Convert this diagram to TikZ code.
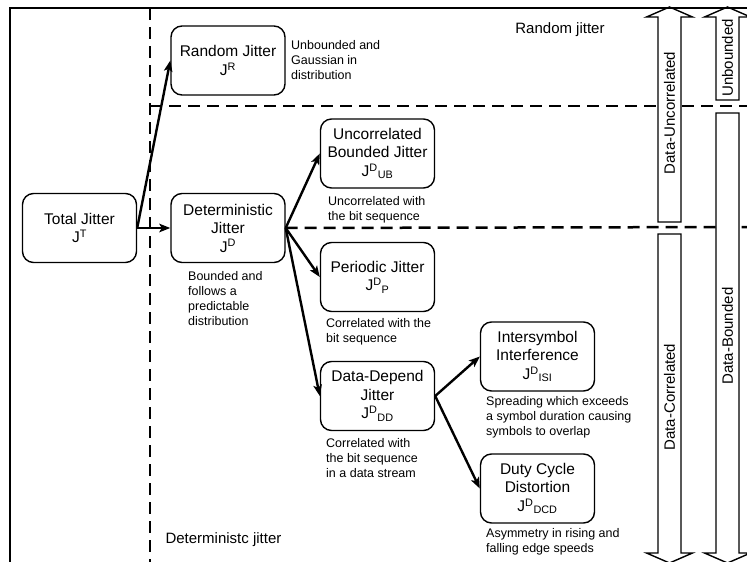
\documentclass[tikz,border=0pt]{standalone}
\usepackage{fontspec}
\setmainfont{Liberation Sans}
\usetikzlibrary{arrows.meta}
\tikzset{
  jbox/.style={draw,line width=1.4pt,rounded corners=11pt,minimum width=114pt,minimum height=69pt,align=center,inner sep=2pt,font=\fontsize{15.5}{18.5}\selectfont},
  jnote/.style={anchor=north west,align=left,inner sep=0pt,font=\fontsize{12.5}{15}\selectfont},
  jlink/.style={line width=2.4pt,-{Stealth[length=11pt,width=8.5pt,inset=2.5pt]}},
  zone/.style={line width=2.5pt,dash pattern=on 12pt off 7pt},
  band/.style={draw,fill=white,line width=1.4pt},
  bandlabel/.style={rotate=90,inner sep=0pt,font=\fontsize{15}{18}\selectfont}
}
\newcommand{\jsym}[2]{J\textsuperscript{#1}\textsubscript{#2}}
\begin{document}
\begin{tikzpicture}[x=1pt,y=-1pt]
\useasboundingbox (0,0) rectangle (747,562);
% boxes
\node[jbox] (TJ) at (79.5,228) {Total Jitter\\J\textsuperscript{T}};
\node[jbox] (RJ) at (228,60.5) {Random Jitter\\J\textsuperscript{R}};
\node[jbox] (DJ) at (228,228) {Deterministic\\Jitter\\J\textsuperscript{D}};
\node[jbox] (UBJ) at (377.5,153.5) {Uncorrelated\\Bounded Jitter\\\jsym{D}{UB}};
\node[jbox] (PJ) at (377.5,277) {Periodic Jitter\\\jsym{D}{P}};
\node[jbox] (DDJ) at (377.5,396) {Data-Depend\\Jitter\\\jsym{D}{DD}};
\node[jbox] (ISI) at (537.5,356.5) {Intersymbol\\Interference\\\jsym{D}{ISI}};
\node[jbox] (DCD) at (537.5,488.5) {Duty Cycle\\Distortion\\\jsym{D}{DCD}};
% zones
\draw[zone] (150,8) -- (150,562);
\draw[zone] (150,106) -- (747,106);
\draw[zone] (DJ.east) -- (747,227);
% side bands
\draw[band] (658,222) -- (658,17) -- (646.5,17) -- (669.5,7) -- (692.5,17) -- (681,17) -- (681,222) -- cycle;
\draw[band] (716,100) -- (716,17) -- (704.5,17) -- (727.5,7) -- (750.5,17) -- (739,17) -- (739,100) -- cycle;
\draw[band] (658,234) -- (658,553) -- (646.5,553) -- (669.5,563) -- (692.5,553) -- (681,553) -- (681,234) -- cycle;
\draw[band] (716,113) -- (716,553) -- (704.5,553) -- (727.5,563) -- (750.5,553) -- (739,553) -- (739,113) -- cycle;
\node[bandlabel] (DUlab) at (669.5,113) {Data-Uncorrelated};
\node[bandlabel] (UBlab) at (727.5,58) {Unbounded};
\node[bandlabel] (DClab) at (669.5,397) {Data-Correlated};
\node[bandlabel] (DBlab) at (727.5,336) {Data-Bounded};
% frame
\draw[line width=1.2pt] (10,562) -- (10,8) -- (747,8);
% links
\draw[jlink] (TJ.east) -- (RJ.west);
\draw[jlink] (TJ.east) -- (DJ.west);
\draw[jlink] (DJ.east) -- (UBJ.west);
\draw[jlink] (DJ.east) -- (PJ.west);
\draw[jlink] (DJ.east) -- (DDJ.west);
\draw[jlink] (DDJ.east) -- (ISI.west);
\draw[jlink] (DDJ.east) -- (DCD.west);
% notes
\node[jnote] (RJtxt) at (291,40) {Unbounded and\\Gaussian in\\distribution};
\node[jnote] (DJtxt) at (188,271) {Bounded and\\follows a\\predictable\\distribution};
\node[jnote] (UBJtxt) at (328,196) {Uncorrelated with\\the bit sequence};
\node[jnote] (PJtxt) at (326,318) {Correlated with the\\bit sequence};
\node[jnote] (DDJtxt) at (326,438) {Correlated with\\the bit sequence\\in a data stream};
\node[jnote] (ISItxt) at (486,396) {Spreading which exceeds\\a symbol duration causing\\symbols to overlap};
\node[jnote] (DCDtxt) at (486,528) {Asymmetry in rising and\\falling edge speeds};
\node[anchor=base,font=\fontsize{15}{18}\selectfont] (RJzone) at (560,33) {Random jitter};
\node[anchor=base west,font=\fontsize{15}{18}\selectfont] (DJzone) at (162,543) {Deterministc jitter};
\end{tikzpicture}
\end{document}
